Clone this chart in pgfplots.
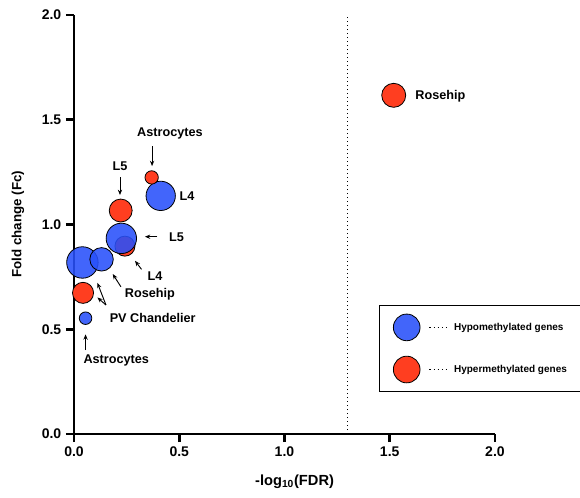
\documentclass[border=0pt]{standalone}
\usepackage{fontspec}
\setmainfont{Liberation Sans}
\usepackage{pgfplots}
\pgfplotsset{compat=1.18}
\usetikzlibrary{arrows.meta}
\definecolor{hypoblue}{RGB}{40,80,250}
\definecolor{hyperred}{RGB}{255,62,32}
\pgfplotsset{
  hypo/.style={only marks, mark=*, mark options={fill=hypoblue, fill opacity=0.88, draw=black, line width=0.6pt}, forget plot},
  hyper/.style={only marks, mark=*, mark options={fill=hyperred, draw=black, line width=0.6pt}, forget plot},
}
\tikzset{
  lab/.style={font=\fontsize{9.5}{11}\selectfont\bfseries},
  arr/.style={-{Stealth[length=4pt,width=3.2pt]}, line width=0.7pt},
}
\begin{document}
\begin{tikzpicture}
\begin{axis}[
    scale only axis,
    width=315.8pt, height=314.3pt,
    xmin=0, xmax=2, ymin=0, ymax=2,
    axis lines*=left,
    axis line style={line width=2pt},
    xtick={0,0.5,...,2}, ytick={0,0.5,...,2},
    tick align=outside,
    major tick length=6pt,
    every tick/.style={black, line width=2pt},
    tick label style={font=\fontsize{10.5}{12}\selectfont\bfseries},
    xticklabel={\pgfmathprintnumber[assume math mode=true,fixed,fixed zerofill,precision=1]{\tick}},
    yticklabel={\pgfmathprintnumber[assume math mode=true,fixed,fixed zerofill,precision=1]{\tick}},
    ylabel={Fold change (Fc)},
    xlabel={-log\textsubscript{10}(FDR)},
    every axis y label/.style={at={(rel axis cs:-0.133,0.501)}, rotate=90, anchor=center,
      font=\fontsize{10}{12}\selectfont\bfseries},
    every axis x label/.style={at={(rel axis cs:0.524,-0.114)}, anchor=center,
      font=\fontsize{11}{13}\selectfont\bfseries},
    clip mode=individual,
    legend style={at={(axis cs:1.449,0.616)}, anchor=north west, draw=black, line width=1pt,
      inner xsep=10pt, inner ysep=6pt, row sep=11pt,
      font=\fontsize{7.5}{9}\selectfont\bfseries,
      nodes={inner sep=1.5pt},
      /tikz/every odd column/.append style={column sep=3.5pt}},
    legend cell align=left,
]
% threshold FDR = 0.05
\addplot[black, dotted, line width=1pt, forget plot] coordinates {(1.3,0) (1.3,2)};

\addplot[hyper, mark size=7.9pt] coordinates {(0.043,0.674)};
\addplot[hypo,  mark size=4.7pt] coordinates {(0.055,0.553)};
\addplot[hypo,  mark size=11.8pt] coordinates {(0.040,0.819)};
\addplot[hypo,  mark size=8.8pt] coordinates {(0.131,0.834)};
\addplot[hyper, mark size=7.5pt] coordinates {(0.242,0.897)};
\addplot[hypo,  mark size=11.4pt] coordinates {(0.225,0.934)};
\addplot[hyper, mark size=8.6pt] coordinates {(0.222,1.067)};
\addplot[hypo,  mark size=11.0pt] coordinates {(0.412,1.137)};
\addplot[hyper, mark size=5.0pt] coordinates {(0.369,1.225)};
\addplot[hyper, mark size=9.0pt] coordinates {(1.519,1.617)};

\addlegendimage{legend image code/.code={
  \draw[fill=hypoblue, fill opacity=0.88, draw=black, line width=0.6pt] (0pt,0pt) circle (10pt);
  \draw[dotted, line width=1.1pt] (17pt,0pt) -- (30pt,0pt);}}
\addlegendentry{Hypomethylated genes}
\addlegendimage{legend image code/.code={
  \draw[fill=hyperred, draw=black, line width=0.6pt] (0pt,0pt) circle (10pt);
  \draw[dotted, line width=1.1pt] (17pt,0pt) -- (30pt,0pt);}}
\addlegendentry{Hypermethylated genes}

% annotations
\node[lab, anchor=west] at (axis cs:1.60,1.613) {Rosehip};
\node[lab] at (axis cs:0.456,1.437) {Astrocytes};
\draw[arr] (axis cs:0.371,1.375) -- (axis cs:0.371,1.279);
\node[lab] at (axis cs:0.2185,1.279) {L5};
\draw[arr] (axis cs:0.2185,1.227) -- (axis cs:0.2185,1.141);
\node[lab, anchor=west] at (axis cs:0.48,1.136) {L4};
\node[lab, anchor=west] at (axis cs:0.43,0.942) {L5};
\draw[arr] (axis cs:0.396,0.942) -- (axis cs:0.337,0.942);
\node[lab] at (axis cs:0.385,0.754) {L4};
\draw[arr] (axis cs:0.321,0.786) -- (axis cs:0.290,0.827);
\node[lab] at (axis cs:0.361,0.668) {Rosehip};
\draw[arr] (axis cs:0.223,0.703) -- (axis cs:0.184,0.764);
\node[lab] at (axis cs:0.374,0.555) {PV Chandelier};
\draw[arr] (axis cs:0.152,0.616) -- (axis cs:0.111,0.722);
\draw[arr] (axis cs:0.152,0.616) -- (axis cs:0.111,0.652);
\node[lab] at (axis cs:0.201,0.350) {Astrocytes};
\draw[arr] (axis cs:0.055,0.401) -- (axis cs:0.055,0.476);

\coordinate (bbll) at (axis cs:-0.3515,-0.3007);
\coordinate (bbur) at (axis cs:2.404,2.072);
\end{axis}
\pgfresetboundingbox
\path[use as bounding box] (bbll) rectangle (bbur);
\end{tikzpicture}
\end{document}
